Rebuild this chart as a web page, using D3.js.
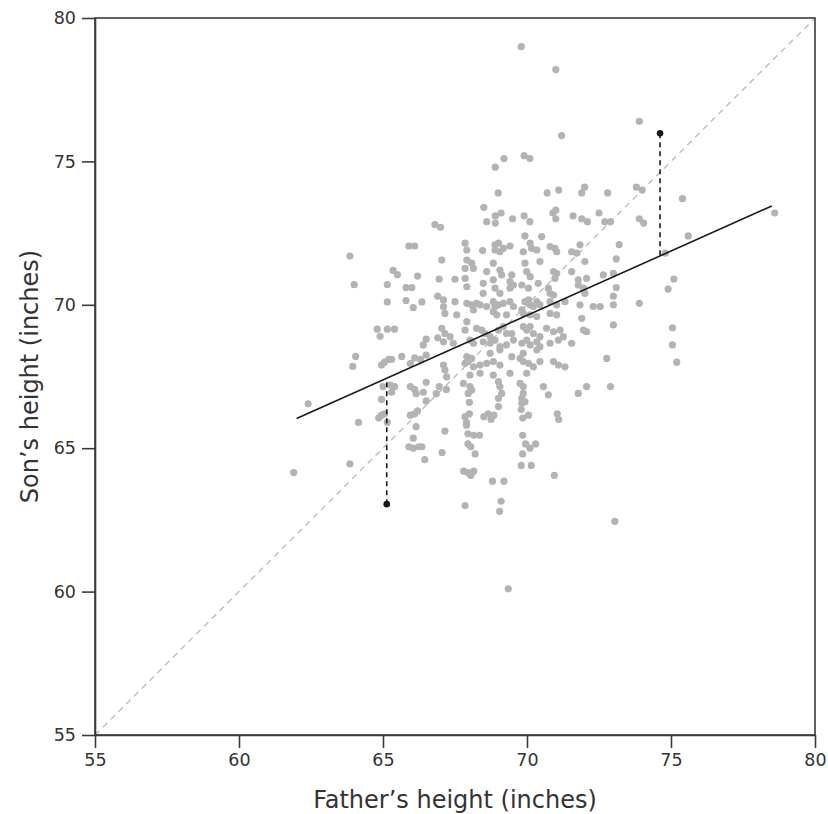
<!DOCTYPE html>
<html>
<head>
<meta charset="utf-8">
<script src="https://cdn.jsdelivr.net/npm/d3@7/dist/d3.min.js"></script>
<style>
  html, body { margin: 0; padding: 0; background: #fff; }
  svg { display: block; }
  .tick text { font-family: "DejaVu Sans", sans-serif; font-size: 17.5px; fill: #333; }
  .title { font-family: "DejaVu Sans", sans-serif; font-size: 24px; fill: #333; }
</style>
</head>
<body>
<svg id="chart" width="828" height="814"></svg>
<script>
// ---- data (inches) ----
const father = [
  69.8,71.0,71.2,68.9,69.2,69.9,70.1,73.9,69.0,70.7,71.1,72.0,71.9,72.8,73.8,74.0,68.5,68.6,68.9,69.1,68.9,69.5,69.9,70.1,70.9,71.0,71.0,71.6,71.9,72.1,72.5,72.7,72.9,73.9,74.05,67.0,66.8,75.4,75.6,78.6,
  73.2,73.1,74.8,73.0,73.1,73.0,75.1,74.9,73.0,73.9,73.0,75.05,75.05,75.2,72.9,73.05,
  63.85,64.0,65.9,66.1,65.35,65.5,66.2,65.15,65.8,66.0,66.95,65.15,65.8,66.35,66.05,66.9,67.1,64.8,64.9,65.15,65.4,66.5,66.4,66.9,64.05,63.95,64.95,65.05,65.2,65.3,65.65,65.95,66.1,66.3,66.5,65.0,65.25,65.4,65.3,65.95,66.1,66.15,66.5,66.4,66.85,66.95,67.2,64.95,62.4,66.5,
  64.15,64.85,64.95,65.05,65.15,65.95,66.1,66.2,66.15,67.15,66.05,65.9,66.05,66.25,66.35,66.45,67.05,63.85,61.9,
  68.0,69.8,67.85,67.9,68.0,67.9,68.5,68.65,68.85,68.75,69.85,70.05,71.05,71.1,67.95,68.15,68.35,67.95,68.05,68.2,69.85,69.95,70.1,70.3,69.85,69.8,70.15,70.95,67.8,67.95,68.05,68.15,68.8,69.2,69.1,69.05,67.85,69.35,
  69.93,70.51,67.85,68.89,69.01,69.41,68.89,69.06,69.18,70.11,70.16,70.34,69.87,70.80,70.97,71.03,71.84,71.55,71.73,68.46,67.91,
  67.04,67.91,68.08,68.14,68.83,67.85,68.60,69.06,69.12,69.47,69.93,70.45,69.99,70.11,70.92,71.03,70.97,71.55,72.01,71.78,72.07,72.65,
  67.50,67.85,67.91,68.48,68.83,68.89,69.41,69.41,69.53,69.82,70.05,70.39,70.74,70.80,70.92,68.48,69.06,71.78,71.96,72.01,
  67.10,67.50,67.91,68.08,68.25,68.37,68.60,68.83,68.89,69.01,69.18,69.41,69.53,69.82,69.93,70.05,70.11,70.22,70.34,70.45,70.80,71.03,71.32,71.84,72.30,72.54,
  67.15,67.56,68.14,68.83,68.95,69.29,69.87,70.11,70.34,70.80,71.03,
  67.04,67.15,67.33,67.85,67.91,68.25,68.43,68.54,68.72,69.01,69.18,69.29,69.47,69.87,69.99,70.11,70.22,70.45,70.68,70.92,71.15,71.26,71.96,72.07,71.90,71.55,
  67.10,67.44,68.02,68.14,68.48,68.72,68.89,69.06,69.29,69.53,69.82,69.99,70.11,70.34,70.45,70.80,71.09,69.87,70.34,69.47,68.72,69.06,67.91,68.08,72.77,
  67.10,67.15,67.85,67.96,68.14,68.37,68.60,68.83,69.06,69.76,69.87,70.05,70.22,70.45,70.92,71.09,71.32,68.02,68.37,68.83,69.41,69.99,67.21,
  67.79,68.02,68.08,67.96,69.01,69.06,69.12,69.01,69.76,69.87,69.87,69.82,69.93,70.57,70.74,71.78,72.07,69.01,69.82
];
const son = [
  79.0,78.2,75.9,74.8,75.1,75.2,75.1,76.4,73.9,73.9,74.0,74.1,73.9,73.9,74.1,74.0,73.4,72.9,73.1,73.2,72.85,73.0,73.1,72.9,73.2,73.3,73.0,73.1,73.0,72.9,73.2,72.9,72.9,73.0,72.85,72.7,72.8,73.7,72.4,73.2,
  72.1,71.6,71.8,71.1,70.6,70.3,70.9,70.55,70.0,70.05,69.3,69.2,68.6,68.0,67.15,62.45,
  71.7,70.7,72.05,72.05,71.2,71.05,71.0,70.7,70.6,70.6,70.9,70.1,70.15,70.1,69.9,70.3,69.93,69.15,68.9,69.15,69.15,68.8,68.6,68.85,68.2,67.85,67.9,68.0,68.1,68.1,68.2,67.95,68.15,68.1,68.25,67.15,67.2,67.15,66.95,67.15,67.05,66.9,67.3,66.95,66.9,67.15,67.05,66.7,66.55,66.65,
  65.9,66.05,66.15,66.2,65.9,66.15,66.2,66.3,65.75,65.6,65.35,65.05,65.0,65.05,65.05,64.6,64.85,64.45,64.15,
  66.6,66.35,66.1,65.9,66.2,65.8,66.1,66.2,66.15,66.0,66.05,66.15,66.2,66.0,65.5,65.45,65.45,65.15,65.05,64.8,65.45,65.15,65.0,65.15,64.8,64.4,64.4,64.05,64.2,64.15,64.05,64.2,63.85,63.85,63.15,62.8,63.0,60.1,
  72.40,72.38,72.15,72.09,72.15,72.05,71.91,71.85,71.97,72.15,71.97,71.91,71.85,72.03,71.97,71.85,72.09,71.85,71.80,71.89,71.91,
  71.56,71.56,71.45,71.27,71.45,71.27,71.16,71.21,71.04,71.04,71.45,71.51,71.16,70.98,71.16,71.10,70.92,71.16,71.51,70.87,70.92,71.04,
  70.89,70.92,70.63,70.75,70.87,70.58,70.81,70.58,70.69,70.69,70.58,70.75,70.58,70.40,70.34,70.40,70.40,70.69,70.58,70.40,
  70.17,70.11,70.05,70.00,70.05,70.00,69.94,70.11,69.94,70.00,70.05,70.11,69.94,69.82,70.11,70.17,70.00,69.94,70.11,70.00,70.11,70.00,70.11,70.00,69.94,69.94,
  69.70,69.65,69.82,69.76,69.65,69.65,69.70,69.65,69.59,69.70,69.65,
  69.18,69.00,68.89,69.12,69.41,69.18,69.12,69.00,68.89,69.12,69.24,69.00,69.00,69.24,69.12,69.24,69.00,68.89,69.18,69.06,69.12,68.89,69.12,69.06,69.53,68.66,
  68.71,68.66,68.77,68.66,68.71,68.66,68.77,68.54,68.60,68.77,68.66,68.77,68.60,68.71,68.54,68.66,68.77,68.31,68.43,68.19,68.31,68.43,68.19,68.13,68.13,
  67.90,67.73,67.96,68.02,67.84,67.90,67.96,68.02,67.90,68.13,68.02,67.96,67.84,68.02,68.02,67.90,67.84,67.55,67.61,67.55,67.61,67.61,67.49,
  67.26,67.15,67.03,66.91,67.32,67.15,66.91,66.74,67.26,67.15,66.91,66.74,66.62,67.15,66.86,66.91,67.15,66.45,66.57
];
// highlighted father/son pairs
const hiFather = [65.13, 74.62];
const hiSon = [63.05, 75.98];
// least-squares line: son = a + b * father
const lineA = 38.2, lineB = 0.449;
const lineFrom = 62.0, lineTo = 78.5;
const xTicks = [55, 60, 65, 70, 75, 80];
const yTicks = [55, 60, 65, 70, 75, 80];
const xDomain = [55, 80], yDomain = [55, 80];

// ---- layout ----
const svg = d3.select("#chart");
const m = { left: 95, top: 18, right: 13, bottom: 79 };
const W = 828, H = 814;
const iw = W - m.left - m.right, ih = H - m.top - m.bottom;
const x = d3.scaleLinear().domain(xDomain).range([0, iw]);
const y = d3.scaleLinear().domain(yDomain).range([ih, 0]);
const g = svg.append("g").attr("transform", `translate(${m.left},${m.top})`);

// diagonal y = x
g.append("line")
  .attr("x1", x(xDomain[0])).attr("y1", y(yDomain[0]))
  .attr("x2", x(xDomain[1])).attr("y2", y(yDomain[1]))
  .attr("stroke", "#bdbdbd").attr("stroke-width", 1.4).attr("stroke-dasharray", "6,5");

// points
const pts = father.map((f, i) => ({ f, s: son[i] }));
g.append("g").selectAll("circle").data(pts).join("circle")
  .attr("cx", d => x(d.f)).attr("cy", d => y(d.s)).attr("r", 3.6)
  .attr("fill", "#b3b3b3");

// regression line
g.append("line")
  .attr("x1", x(lineFrom)).attr("y1", y(lineA + lineB * lineFrom))
  .attr("x2", x(lineTo)).attr("y2", y(lineA + lineB * lineTo))
  .attr("stroke", "#1a1a1a").attr("stroke-width", 1.6);

// residual lines + highlighted points
hiFather.forEach((f, i) => {
  g.append("line")
    .attr("x1", x(f)).attr("x2", x(f))
    .attr("y1", y(hiSon[i])).attr("y2", y(lineA + lineB * f))
    .attr("stroke", "#1a1a1a").attr("stroke-width", 1.6).attr("stroke-dasharray", "5,4");
  g.append("circle").attr("cx", x(f)).attr("cy", y(hiSon[i])).attr("r", 3.3).attr("fill", "#1a1a1a");
});

// frame
g.append("rect").attr("x", 0).attr("y", 0).attr("width", iw).attr("height", ih)
  .attr("fill", "none").attr("stroke", "#3a3a3a").attr("stroke-width", 1.6);

// axes
const xAxis = g.append("g").attr("transform", `translate(0,${ih})`)
  .call(d3.axisBottom(x).tickValues(xTicks).tickSize(13).tickSizeOuter(0).tickPadding(6));
const yAxis = g.append("g")
  .call(d3.axisLeft(y).tickValues(yTicks).tickSize(13).tickSizeOuter(0).tickPadding(6));
[xAxis, yAxis].forEach(a => {
  a.select(".domain").attr("stroke", "#3a3a3a").attr("stroke-width", 1.6);
  a.selectAll(".tick line").attr("stroke", "#3a3a3a").attr("stroke-width", 1.6);
  a.selectAll(".tick text").attr("fill", "#333");
});

svg.append("text").attr("class", "title")
  .attr("x", m.left + iw / 2).attr("y", 808).attr("text-anchor", "middle")
  .text("Father’s height (inches)");
svg.append("text").attr("class", "title")
  .attr("transform", `translate(38,${m.top + ih / 2}) rotate(-90)`).attr("text-anchor", "middle")
  .text("Son’s height (inches)");
</script>
</body>
</html>
